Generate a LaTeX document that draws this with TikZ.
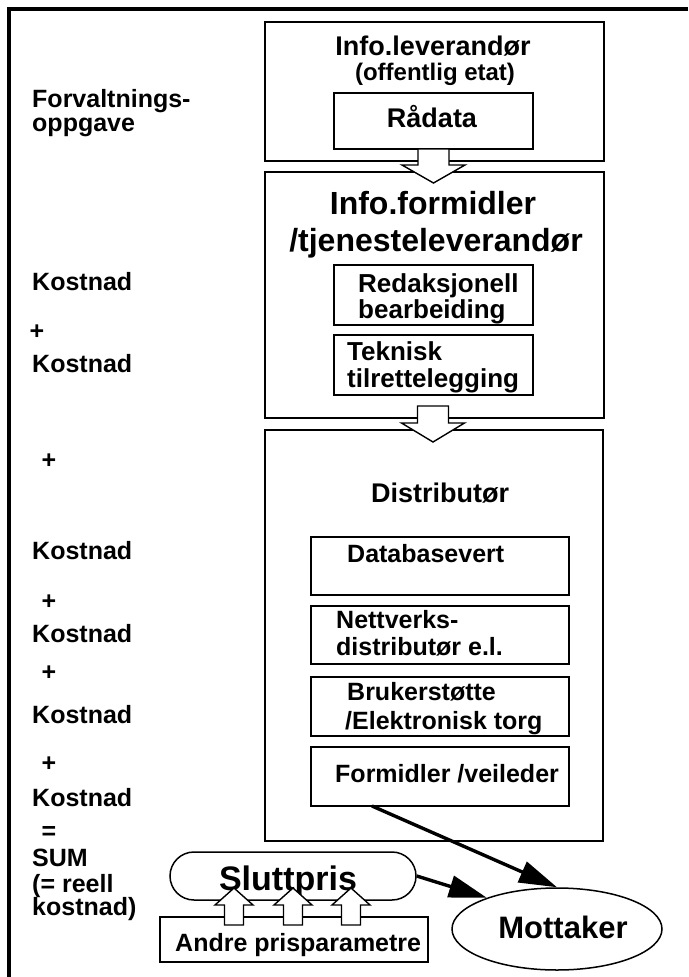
\documentclass[tikz,border=0pt]{standalone}
\usepackage{fontspec}
\setmainfont{Liberation Sans}
\usetikzlibrary{shapes.geometric,arrows.meta}

% bold text at a given size in points
\newcommand\pxfont[1]{\fontsize{#1pt}{#1pt}\selectfont\bfseries}
% hollow block arrow: x, shaft end, head base, tip, half shaft width, half head width
\newcommand\blockarr[6]{%
  \draw[blockarrow] (#1-#5,#2) -- (#1+#5,#2) -- (#1+#5,#3) -- (#1+#6,#3)
    -- (#1,#4) -- (#1-#6,#3) -- (#1-#5,#3) -- cycle;}

\tikzset{
  box/.style={draw, line width=1.5pt, fill=white, rectangle, inner sep=0pt},
  txt/.style={font=\pxfont{#1}, inner sep=0pt, text=black},
  side/.style={txt=25, anchor=base west},
  sidec/.style={txt=25, anchor=base},
  blockarrow/.style={draw, line width=1.4pt, fill=white, line join=miter},
  flow/.style={line width=3.4pt, -{Triangle[length=38pt,width=22pt]}},
  frame/.style={line width=3.5pt}
}

\begin{document}
\begin{tikzpicture}[x=1pt,y=-1pt]
\useasboundingbox (0,0) rectangle (688,977);

% outer frame (top and left edges)
\draw[frame] (688,9) -- (9,9) -- (9,977);

% ---- information supplier
\node[box, minimum width=339pt, minimum height=139pt] (lev) at (434.5,91.5) {};
\node[box, minimum width=199pt, minimum height=56pt] (rad) at (433.5,121) {};
\node[txt=27, anchor=base] (levA) at (433,55) {Info.leverandør};
\node[txt=24, anchor=base] (levB) at (435,80) {(offentlig etat)};
\node[txt=27, anchor=base] (radT) at (432,127) {Rådata};

% ---- information broker / service provider
\node[box, minimum width=339pt, minimum height=246pt] (form) at (434.5,295) {};
\node[txt=32, anchor=base] (formA) at (433,214.5) {Info.formidler};
\node[txt=32, anchor=base] (formB) at (436,251) {/tjenesteleverandør};
\node[box, minimum width=199pt, minimum height=60pt] (red) at (433.5,295) {};
\node[txt=26, anchor=base west] (redA) at (358,292) {Redaksjonell};
\node[txt=26, anchor=base west] (redB) at (358,318) {bearbeiding};
\node[box, minimum width=199pt, minimum height=60pt] (tek) at (433.5,365) {};
\node[txt=26, anchor=base west] (tekA) at (347,360) {Teknisk};
\node[txt=26, anchor=base west] (tekB) at (347,387) {tilrettelegging};

% ---- distributor
\node[box, minimum width=338pt, minimum height=411pt] (dist) at (434,635.5) {};
\node[txt=27, anchor=base] (distT) at (440,502) {Distributør};
\node[box, minimum width=258pt, minimum height=58pt] (db) at (440,566) {};
\node[txt=25, anchor=base west] (dbT) at (347,562) {Databasevert};
\node[box, minimum width=258pt, minimum height=58pt] (net) at (440,635) {};
\node[txt=25, anchor=base west] (netA) at (336,628) {Nettverks-};
\node[txt=25, anchor=base west] (netB) at (336,655) {distributør e.l.};
\node[box, minimum width=258pt, minimum height=59pt] (bru) at (440,706.5) {};
\node[txt=25, anchor=base west] (bruA) at (347,700) {Brukerstøtte};
\node[txt=25, anchor=base west] (bruB) at (345,729) {/Elektronisk torg};
\node[box, minimum width=258pt, minimum height=59pt] (vei) at (440,776.5) {};
\node[txt=25, anchor=base west] (veiT) at (335,782) {Formidler /veileder};

% ---- final price and recipient
\node[box, rounded corners=24pt, minimum width=246pt, minimum height=48pt] (slutt) at (293,876) {};
\node[txt=34, anchor=base] (sluttT) at (288,890) {Sluttpris};
\node[box, minimum width=268pt, minimum height=45pt] (andre) at (294,939.5) {};
\node[txt=25, anchor=base west] (andreT) at (175,951) {Andre prisparametre};
\node[draw, line width=1.5pt, fill=white, ellipse, minimum width=210pt, minimum height=82pt, inner sep=0pt] (mot) at (557,929) {};
\node[txt=31, anchor=base] (motT) at (563,938) {Mottaker};

% ---- block arrows between the stages
\blockarr{433.5}{149}{165}{183}{15.5}{31.5}
\blockarr{433}{406}{423}{442}{15.5}{31.5}
\blockarr{234}{925}{905}{888}{9.5}{19}
\blockarr{293}{925}{905}{888}{9.5}{19}
\blockarr{351}{925}{905}{888}{9.5}{19}

% ---- delivery to the recipient
\coordinate (veiOut) at (372,806);
\draw[flow] (veiOut) -- (mot.north);
\draw[flow] (slutt.east) -- (mot.156);

% ---- cost column
\node[side] (c0a) at (32,107) {Forvaltnings-};
\node[side] (c0b) at (32,131) {oppgave};
\node[side] (k1) at (32,290) {Kostnad};
\node[sidec] (p1) at (37,339) {+};
\node[side] (k2) at (32,372) {Kostnad};
\node[sidec] (p2) at (49,468) {+};
\node[side] (k3) at (32,559) {Kostnad};
\node[sidec] (p3) at (49,609) {+};
\node[side] (k4) at (32,642) {Kostnad};
\node[sidec] (p4) at (49,680) {+};
\node[side] (k5) at (32,723) {Kostnad};
\node[sidec] (p5) at (49,771) {+};
\node[side] (k6) at (32,806) {Kostnad};
\node[sidec] (eq) at (49,839) {=};
\node[side] (sum) at (32,866) {SUM};
\node[side] (sumA) at (32,892) {(= reell};
\node[side] (sumB) at (32,915) {kostnad)};
\end{tikzpicture}
\end{document}
